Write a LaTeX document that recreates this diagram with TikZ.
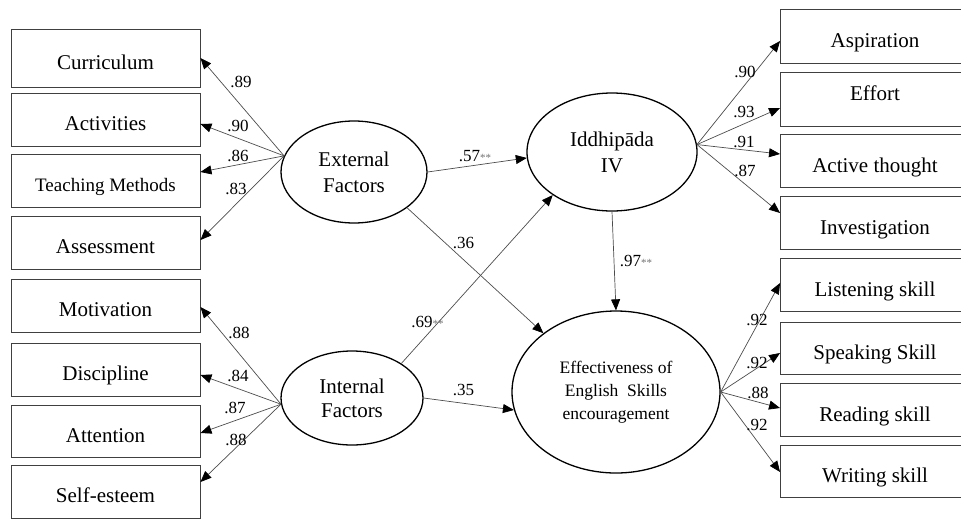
\documentclass[tikz,border=0pt]{standalone}
\usepackage{fontspec}
\setmainfont{Liberation Serif}
\usepackage{tikz}
\usetikzlibrary{shapes.geometric, arrows.meta, positioning}

\newcommand{\starsig}{{\color{black!55}\fontsize{11}{11}\selectfont**}}

\begin{document}
\begin{tikzpicture}[
    x=1pt, y=-1pt,
    factor/.style={ellipse, draw, line width=1.3pt, inner sep=0pt, align=center, font=\fontsize{21}{26}\selectfont},
    item/.style={rectangle, draw=black!75, line width=0.9pt, minimum width=189pt, minimum height=53pt, text height=22pt, text depth=0pt, font=\fontsize{21}{24}\selectfont},
    load/.style={line width=0.7pt, black!70, -{Triangle[length=11pt, width=9pt, color=black]}},
    coef/.style={inner sep=0pt, font=\fontsize{17}{20}\selectfont}
]
\path[use as bounding box, clip] (0,0) rectangle (961,520);

% latent factors
\node[factor, minimum width=146pt, minimum height=102pt] (ext) at (354,172) {External\\Factors};
\node[factor, minimum width=142pt, minimum height=94pt, font=\fontsize{21}{24}\selectfont] (int) at (352,398) {Internal\\Factors};
\node[factor, minimum width=170pt, minimum height=118pt] (idd) at (612,152) {Iddhipāda\\IV};
\node[factor, minimum width=208pt, minimum height=162pt, font=\fontsize{17.5}{23}\selectfont] (ees) at (616,392) {Effectiveness of\\English~~Skills\\encouragement};

% left indicators
\node[item, minimum height=58pt] (cur) at (105.5,58) {Curriculum};
\node[item] (act) at (105.5,119.5) {Activities};
\node[item, font=\fontsize{19}{22}\selectfont] (tm) at (105.5,180.5) {Teaching Methods};
\node[item] (ass) at (105.5,242.5) {Assessment};
\node[item] (mot) at (105.5,305.5) {Motivation};
\node[item] (dis) at (105.5,369.5) {Discipline};
\node[item, minimum height=52pt] (att) at (105.5,431) {Attention};
\node[item] (self) at (105.5,491.5) {Self-esteem};

% right indicators
\node[item, minimum height=54pt, text height=23pt] (asp) at (875,36) {Aspiration};
\node[item, minimum height=54pt, text height=10pt, text depth=6.6pt] (efo) at (875,99) {Effort};
\node[item, text height=23pt] (actt) at (875,160.5) {Active thought};
\node[item, text height=23pt] (inv) at (875,222.5) {Investigation};
\node[item, text height=23pt] (lis) at (875,284.5) {Listening skill};
\node[item, minimum height=52pt, text height=23pt] (spe) at (875,348) {Speaking Skill};
\node[item, text height=23pt] (rea) at (875,409.5) {Reading skill};
\node[item, minimum height=52pt, text height=23pt] (wri) at (875,471) {Writing skill};

% loadings of External Factors
\draw[load] (ext.167) -- (cur.east);
\draw[load] (ext.167) -- ([yshift=-4.5pt]act.east);
\draw[load] (ext.167) -- ([yshift=8.5pt]tm.east);
\draw[load] (ext.167) -- ([yshift=2.5pt]ass.east);
\node[coef] (w1) at (241,82) {.89};
\node[coef] (w2) at (238,126) {.90};
\node[coef] (w3) at (238,156) {.86};
\node[coef] (w4) at (236,189) {.83};

% loadings of Internal Factors
\draw[load] (int.185) -- ([yshift=-1.5pt]mot.east);
\draw[load] (int.185) -- ([yshift=-5.5pt]dis.east);
\draw[load] (int.185) -- ([yshift=-2pt]att.east);
\draw[load] (int.185) -- ([yshift=9.5pt]self.east);
\node[coef] (w5) at (239,333) {.88};
\node[coef] (w6) at (238,376) {.84};
\node[coef] (w7) at (235,408) {.87};
\node[coef] (w8) at (236,440) {.88};

% loadings of Iddhipada IV
\draw[load] (idd.5) -- ([yshift=-5pt]asp.west);
\draw[load] (idd.5) -- ([yshift=-9pt]efo.west);
\draw[load] (idd.5) -- ([yshift=6.5pt]actt.west);
\draw[load] (idd.5) -- ([yshift=9.5pt]inv.west);
\node[coef] (w9) at (745,72) {.90};
\node[coef] (w10) at (744,112) {.93};
\node[coef] (w11) at (744,142) {.91};
\node[coef] (w12) at (745,171) {.87};

% loadings of English skills
\draw[load] (ees.east) -- ([yshift=1.5pt]lis.west);
\draw[load] (ees.east) -- ([yshift=-5pt]spe.west);
\draw[load] (ees.east) -- ([yshift=1.5pt]rea.west);
\draw[load] (ees.east) -- ([yshift=-1pt]wri.west);
\node[coef] (w13) at (757,320) {.92};
\node[coef] (w14) at (757,363) {.92};
\node[coef] (w15) at (758,393) {.88};
\node[coef] (w16) at (757,425) {.92};

% structural paths
\draw[load] (ext.east) -- (idd.184);
\draw[load] (ext.-34) -- (ees.141);
\draw[load] (int.35) -- (idd.-144);
\draw[load] (int.east) -- (ees.190);
\draw[load] (idd.south) -- (ees.north);
\node[coef] (p1) at (475,156) {.57\starsig};
\node[coef] (p2) at (463.5,243) {.36};
\node[coef] (p3) at (427.5,322) {.69\starsig};
\node[coef] (p4) at (463.5,390) {.35};
\node[coef] (p5) at (636,261) {.97\starsig};
\end{tikzpicture}
\end{document}
